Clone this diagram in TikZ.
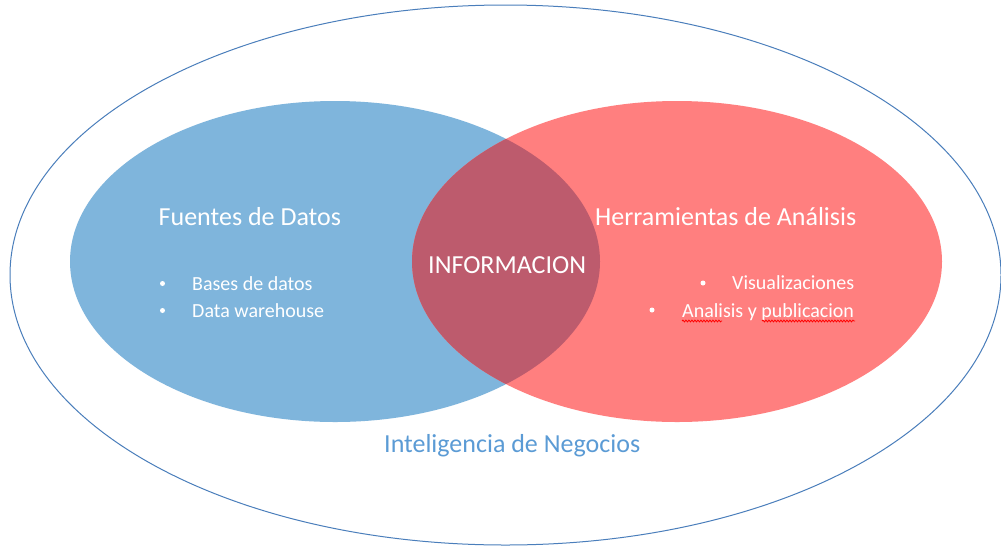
\documentclass[tikz,border=0pt]{standalone}
\usepackage{fontspec}
\setmainfont{Carlito}
\usetikzlibrary{decorations.pathmorphing}
\definecolor{setblue}{HTML}{7FB5DC}
\definecolor{setred}{HTML}{FF7F7F}
\definecolor{setmix}{HTML}{BD5B6D}
\definecolor{outerline}{HTML}{4A7EBB}
\definecolor{labelblue}{HTML}{5B9BD5}
\definecolor{txtwhite}{HTML}{FFFFFF}
\tikzset{
  bigtxt/.style={anchor=base west, inner sep=0pt, text=txtwhite, font=\fontsize{26}{30}\selectfont},
  smalltxt/.style={anchor=base west, inner sep=0pt, text=txtwhite, font=\fontsize{20}{24}\selectfont},
  bulletdot/.style={circle, fill=txtwhite, inner sep=0pt, minimum size=5pt},
  spell/.style={draw=red, line width=0.8pt, decorate, decoration={snake, amplitude=0.9pt, segment length=3pt}}
}
\begin{document}
\begin{tikzpicture}[x=1pt,y=-1pt]
\useasboundingbox (0,0) rectangle (1001,547);
\fill[white] (0,0) rectangle (1001,547);
% outer set
\draw[outerline, line width=1pt] (505.5,275) ellipse [x radius=495.5, y radius=270];
% sets
\fill[setblue] (335,261.5) ellipse [x radius=265, y radius=160.5];
\fill[setred] (677,261.5) ellipse [x radius=265, y radius=160.5];
\begin{scope}
  \clip (335,261.5) ellipse [x radius=265, y radius=160.5];
  \fill[setmix] (677,261.5) ellipse [x radius=265, y radius=160.5];
\end{scope}
% texts
\node[bigtxt] (fuentes) at (158.5,225) {Fuentes de Datos};
\node[bigtxt] (herram) at (595,225) {Herramientas de Análisis};
\node[bigtxt] (info) at (428,273) {INFORMACION};
\node[smalltxt] (bases) at (192,290) {Bases de datos};
\node[smalltxt] (dw) at (192,317) {Data warehouse};
\node[smalltxt] (visu) at (732,289) {Visualizaciones};
\node[smalltxt] (anal) at (682,317) {Analisis y publicacion};
\node[anchor=base west, inner sep=0pt, text=labelblue, font=\fontsize{26}{30}\selectfont] (bi) at (384,452) {Inteligencia de Negocios};
% bullets
\node[bulletdot] (b1) at (162.5,283.5) {};
\node[bulletdot] (b2) at (162.5,310.5) {};
\node[bulletdot] (b3) at (703,283) {};
\node[bulletdot] (b4) at (652,310) {};
% spell-check underlines
\coordinate (s1a) at (682,321);
\coordinate (s1b) at (722,321);
\coordinate (s2a) at (762,321);
\coordinate (s2b) at (855,321);
\draw[spell] (s1a) -- (s1b);
\draw[spell] (s2a) -- (s2b);
\end{tikzpicture}
\end{document}
